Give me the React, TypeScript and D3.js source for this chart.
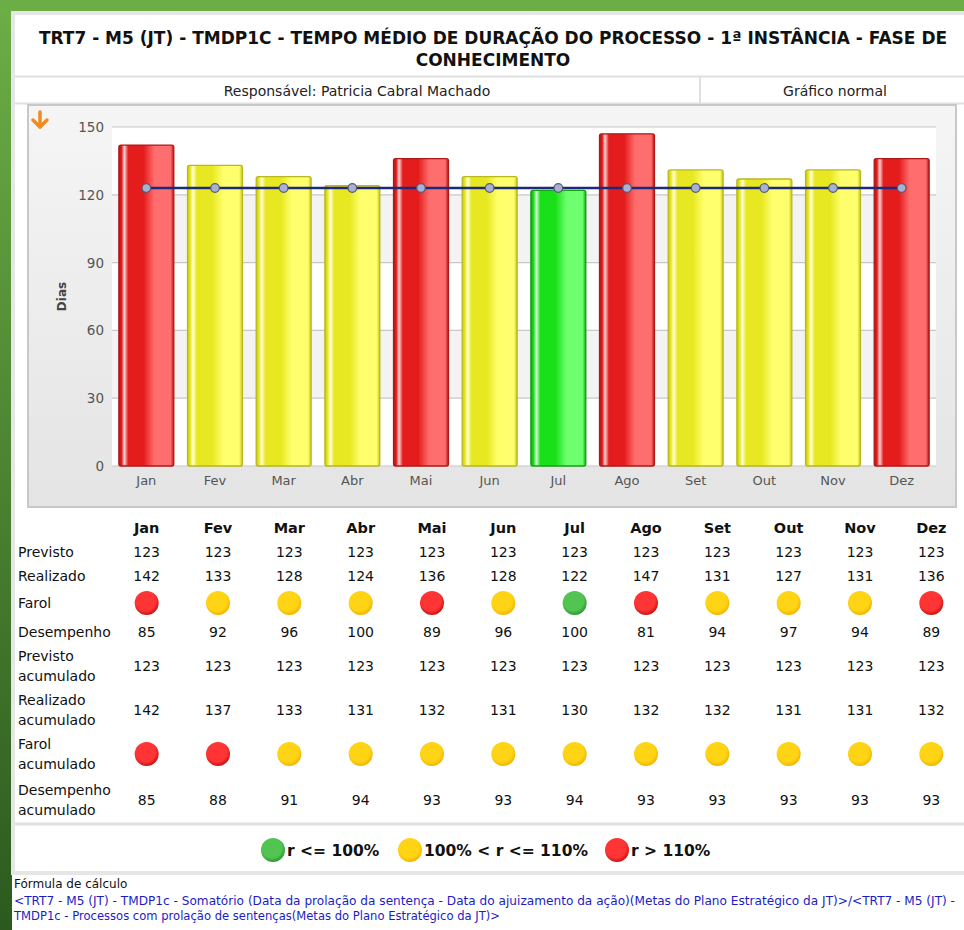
import React from 'react';
import * as d3 from 'd3';

const months = ['Jan', 'Fev', 'Mar', 'Abr', 'Mai', 'Jun', 'Jul', 'Ago', 'Set', 'Out', 'Nov', 'Dez'];
const previsto = [123, 123, 123, 123, 123, 123, 123, 123, 123, 123, 123, 123];
const realizado = [142, 133, 128, 124, 136, 128, 122, 147, 131, 127, 131, 136];
const farol = ['r', 'y', 'y', 'y', 'r', 'y', 'g', 'r', 'y', 'y', 'y', 'r'];
const desempenho = [85, 92, 96, 100, 89, 96, 100, 81, 94, 97, 94, 89];
const previstoAcum = [123, 123, 123, 123, 123, 123, 123, 123, 123, 123, 123, 123];
const realizadoAcum = [142, 137, 133, 131, 132, 131, 130, 132, 132, 131, 131, 132];
const farolAcum = ['r', 'r', 'y', 'y', 'y', 'y', 'y', 'y', 'y', 'y', 'y', 'y'];
const desempenhoAcum = [85, 88, 91, 94, 93, 93, 94, 93, 93, 93, 93, 93];
const yTicks = [0, 30, 60, 90, 120, 150];

const legendItems = [
  { key: 'g', label: 'r <= 100%' },
  { key: 'y', label: '100% < r <= 110%' },
  { key: 'r', label: 'r > 110%' },
];

const barPal: Record<string, { edge: string; base: string; light: string; hi: string; stroke: string }> = {
  r: { edge: '#b81414', base: '#e41c1c', light: '#ff6e6e', hi: '#ffd4d4', stroke: '#b01818' },
  y: { edge: '#c8c810', base: '#e8e822', light: '#ffff6e', hi: '#ffffd8', stroke: '#b8b820' },
  g: { edge: '#10a810', base: '#1ae01a', light: '#6eff6e', hi: '#d4ffd4', stroke: '#18a018' },
};
const dotPal: Record<string, { c: string; e: string }> = {
  r: { c: '#ff3434', e: '#c81212' },
  y: { c: '#ffd414', e: '#f2b400' },
  g: { c: '#52c452', e: '#2e9636' },
};

const FONT = '"DejaVu Sans", Verdana, sans-serif';

export default function App() {
  const W = 964, H = 930;
  const plotL = 112, plotR = 936, plotT = 127, plotB = 466;
  const x = d3.scaleBand<string>().domain(months).range([plotL, plotR]).paddingInner(0.2).paddingOuter(0.1);
  const y = d3.scaleLinear().domain([0, 150]).range([plotB, plotT]);
  const cx = (m: string) => (x(m) as number) + x.bandwidth() / 2;
  const line = d3.line<number>().x((_, i) => cx(months[i])).y((d) => y(d));

  const tx = d3.scaleBand<string>().domain(months).range([111, 967]);
  const tcx = (m: string) => (tx(m) as number) + tx.bandwidth() / 2;

  const rows: { label: string[]; kind: 'num' | 'dot'; vals: (number | string)[]; y: number }[] = [
    { label: ['Previsto'], kind: 'num', vals: previsto, y: 552 },
    { label: ['Realizado'], kind: 'num', vals: realizado, y: 576 },
    { label: ['Farol'], kind: 'dot', vals: farol, y: 603 },
    { label: ['Desempenho'], kind: 'num', vals: desempenho, y: 632 },
    { label: ['Previsto', 'acumulado'], kind: 'num', vals: previstoAcum, y: 666 },
    { label: ['Realizado', 'acumulado'], kind: 'num', vals: realizadoAcum, y: 710 },
    { label: ['Farol', 'acumulado'], kind: 'dot', vals: farolAcum, y: 754 },
    { label: ['Desempenho', 'acumulado'], kind: 'num', vals: desempenhoAcum, y: 800 },
  ];

  const legendX: Record<string, number> = { g: 273, y: 410, r: 617 };

  return (
    <svg width={W} height={H} style={{ position: 'absolute', left: 0, top: 0 }} fontFamily={FONT}>
      <defs>
        <linearGradient id="greenLeft" x1="0" y1="0" x2="0" y2="1">
          <stop offset="0" stopColor="#6cae46" />
          <stop offset="1" stopColor="#2c5a1e" />
        </linearGradient>
        <linearGradient id="panelBg" x1="0" y1="0" x2="0" y2="1">
          <stop offset="0" stopColor="#f5f5f5" />
          <stop offset="1" stopColor="#e4e4e4" />
        </linearGradient>
        {Object.entries(barPal).map(([k, p]) => (
          <linearGradient key={k} id={`bar-${k}`} x1="0" y1="0" x2="1" y2="0">
            <stop offset="0" stopColor={p.edge} />
            <stop offset="0.05" stopColor={p.base} />
            <stop offset="0.1" stopColor={p.hi} />
            <stop offset="0.17" stopColor={p.base} />
            <stop offset="0.45" stopColor={p.base} />
            <stop offset="0.65" stopColor={p.light} />
            <stop offset="0.94" stopColor={p.light} />
            <stop offset="1" stopColor={p.edge} />
          </linearGradient>
        ))}
        {Object.entries(dotPal).map(([k, p]) => (
          <radialGradient key={k} id={`dot-${k}`} cx="0.45" cy="0.4" r="0.6">
            <stop offset="0" stopColor={p.c} />
            <stop offset="0.7" stopColor={p.c} />
            <stop offset="1" stopColor={p.e} />
          </radialGradient>
        ))}
      </defs>

      {/* background frame */}
      <rect x={0} y={0} width={W} height={H} fill="#ffffff" />
      <rect x={0} y={0} width={12} height={H} fill="url(#greenLeft)" />
      <rect x={0} y={0} width={W} height={11} fill="#6cae46" />

      {/* content box borders */}
      <rect x={13} y={13} width={W} height={860} fill="none" stroke="#e6e6e6" strokeWidth={4} />
      <line x1={15} x2={W} y1={76.5} y2={76.5} stroke="#e0e0e0" strokeWidth={2} />
      <line x1={15} x2={W} y1={103.5} y2={103.5} stroke="#e0e0e0" strokeWidth={2} />
      <line x1={700} x2={700} y1={77} y2={103} stroke="#e0e0e0" strokeWidth={2} />

      {/* title */}
      <text x={493} y={44} textAnchor="middle" fontWeight="bold" fontSize={17} fill="#111">
        TRT7 - M5 (JT) - TMDP1C - TEMPO MÉDIO DE DURAÇÃO DO PROCESSO - 1ª INSTÂNCIA - FASE DE
      </text>
      <text x={493} y={66} textAnchor="middle" fontWeight="bold" fontSize={17} fill="#111">
        CONHECIMENTO
      </text>
      <text x={357} y={96} textAnchor="middle" fontSize={14} fill="#222">Responsável: Patricia Cabral Machado</text>
      <text x={835} y={96} textAnchor="middle" fontSize={14} fill="#222">Gráfico normal</text>

      {/* chart panel */}
      <rect x={28} y={105} width={928} height={402} fill="url(#panelBg)" stroke="#c8c8c8" strokeWidth={2} />
      <rect x={plotL} y={plotT} width={plotR - plotL} height={plotB - plotT} fill="#ffffff" />
      {yTicks.slice(0, -1).map((t, i) =>
        i % 2 === 1 ? (
          <rect key={`band${t}`} x={plotL} y={y(t + 30)} width={plotR - plotL} height={y(t) - y(t + 30)} fill="#f3f3f3" />
        ) : null
      )}
      {yTicks.map((t) => (
        <g key={`yt${t}`}>
          <line x1={plotL} x2={plotR} y1={y(t)} y2={y(t)} stroke="#c8c8c8" strokeWidth={1.2} />
          <text x={104} y={y(t) + 5} textAnchor="end" fontSize={13.5} fill="#555">{t}</text>
        </g>
      ))}
      <text transform={`translate(66,${(plotT + plotB) / 2}) rotate(-90)`} textAnchor="middle" fontSize={12} fontWeight="bold" fill="#444">Dias</text>

      {/* orange arrow */}
      <g stroke="#f28a1e" strokeWidth={3.5} fill="none" strokeLinecap="round" strokeLinejoin="round">
        <line x1={40} y1={112} x2={40} y2={127} />
        <polyline points="33,120 40,127 47,120" />
      </g>

      {/* bars */}
      {months.map((m, i) => (
        <rect
          key={`bar${m}`}
          x={x(m)}
          y={y(realizado[i])}
          width={x.bandwidth()}
          height={plotB - y(realizado[i])}
          rx={2}
          fill={`url(#bar-${farol[i]})`}
          stroke={barPal[farol[i]].stroke}
          strokeWidth={1.3}
        />
      ))}
      {months.map((m) => (
        <text key={`xl${m}`} x={cx(m)} y={485} textAnchor="middle" fontSize={13} fill="#555">{m}</text>
      ))}

      {/* previsto line */}
      <path d={line(previsto) || ''} fill="none" stroke="#1c2a7c" strokeWidth={2.6} />
      {months.map((m, i) => (
        <circle key={`pt${m}`} cx={cx(m)} cy={y(previsto[i])} r={4.3} fill="#a8b0d6" stroke="#555a70" strokeWidth={1.2} />
      ))}

      {/* table */}
      {months.map((m) => (
        <text key={`th${m}`} x={tcx(m)} y={533} textAnchor="middle" fontWeight="bold" fontSize={14.5} fill="#111">{m}</text>
      ))}
      {rows.map((r, ri) => (
        <g key={`row${ri}`}>
          {r.label.length === 1 ? (
            <text x={18} y={r.y + 5} fontSize={14} fill="#111">{r.label[0]}</text>
          ) : (
            <>
              <text x={18} y={r.y - 5} fontSize={14} fill="#111">{r.label[0]}</text>
              <text x={18} y={r.y + 15} fontSize={14} fill="#111">{r.label[1]}</text>
            </>
          )}
          {months.map((m, i) =>
            r.kind === 'num' ? (
              <text key={`c${m}`} x={tcx(m)} y={r.y + 5} textAnchor="middle" fontSize={14} fill="#111">{r.vals[i]}</text>
            ) : (
              <circle key={`c${m}`} cx={tcx(m)} cy={r.y} r={12} fill={`url(#dot-${r.vals[i]})`} />
            )
          )}
        </g>
      ))}
      <line x1={15} x2={W} y1={824} y2={824} stroke="#e0e0e0" strokeWidth={3} />

      {/* legend */}
      {legendItems.map((it) => (
        <g key={`lg${it.key}`}>
          <circle cx={legendX[it.key]} cy={850} r={12} fill={`url(#dot-${it.key})`} />
          <text x={legendX[it.key] + 14} y={856} fontSize={15.5} fontWeight="bold" fill="#111">{it.label}</text>
        </g>
      ))}

      {/* footer */}
      <rect x={12} y={875} width={W} height={H - 875} fill="#ffffff" />
      <text x={14} y={888} fontSize={12} fill="#111">Fórmula de cálculo</text>
      <text x={14} y={905} fontSize={11.5} fill="#1c1cc4" textLength={941} lengthAdjust="spacingAndGlyphs">
        {'<TRT7 - M5 (JT) - TMDP1c - Somatório (Data da prolação da sentença - Data do ajuizamento da ação)(Metas do Plano Estratégico da JT)>/<TRT7 - M5 (JT) -'}
      </text>
      <text x={14} y={920} fontSize={11.5} fill="#1c1cc4" textLength={486} lengthAdjust="spacingAndGlyphs">
        {'TMDP1c - Processos com prolação de sentenças(Metas do Plano Estratégico da JT)>'}
      </text>
    </svg>
  );
}
